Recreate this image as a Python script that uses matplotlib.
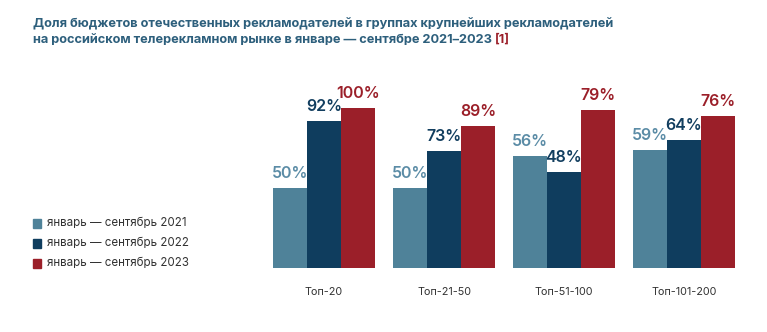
import matplotlib
matplotlib.use('Agg')
import numpy as np
import matplotlib.pyplot as plt
from matplotlib.patches import Rectangle

plt.rcParams['font.family'] = ['Inter', 'DejaVu Sans']

groups = ['Топ-20', 'Топ-21-50', 'Топ-51-100', 'Топ-101-200']
series = ['январь — сентябрь 2021', 'январь — сентябрь 2022', 'январь — сентябрь 2023']
v2021 = [50, 50, 56, 59]
v2022 = [92, 73, 48, 64]
v2023 = [100, 89, 79, 76]
# the source drew the last two groups on a larger scale
group_scale = [1.0, 1.0, 1.25, 1.25]

colors = ['#4f8299', '#0f3d5e', '#9b1f29']
label_colors = ['#5b8ca6', '#123e5f', '#9b1f29']

fig = plt.figure(figsize=(7.67, 3.32), dpi=100)
ax = fig.add_axes([264 / 767, 64 / 332, 480 / 767, 192 / 332])

x = np.arange(len(groups))
w = 0.286
for i, (vals, c, lc) in enumerate(zip([v2021, v2022, v2023], colors, label_colors)):
    pos = x + (i - 1) * w
    h = np.array(vals) * np.array(group_scale)
    ax.bar(pos, h, width=w, color=c, linewidth=0)
    for px, hv, v in zip(pos, h, vals):
        ax.annotate(f'{v}%', xy=(px, hv), xytext=(0, 5), textcoords='offset points',
                    ha='center', va='bottom', fontsize=11.5,
                    fontweight='semibold', color=lc)

ax.set_xlim(-0.5, 3.5)
ax.set_ylim(0, 120)
ax.set_xticks(x)
ax.set_xticklabels(groups, fontsize=7.8, color='#333333')
ax.tick_params(axis='x', length=0, pad=14)
ax.set_yticks([])
for s in ax.spines.values():
    s.set_visible(False)

# title
t1 = fig.text(33 / 767, 1 - 24 / 332, 'Доля бюджетов отечественных рекламодателей в группах крупнейших рекламодателей',
              fontsize=9.2, fontweight='bold', color='#2d5f7c', va='center')
t2 = fig.text(33 / 767, 1 - 40 / 332, 'на российском телерекламном рынке в январе — сентябре 2021–2023 ',
              fontsize=9.2, fontweight='bold', color='#2d5f7c', va='center')
ax.annotate('[1]', xy=(1, 0), xycoords=t2, va='bottom', ha='left',
            fontsize=9.2, fontweight='bold', color='#9b1f29', annotation_clip=False)

# legend
for i, (name, c) in enumerate(zip(series, colors)):
    yy = 1 - (223 + 20 * i) / 332
    fig.patches.append(Rectangle((33 / 767, yy - 4.5 / 332), 8 / 767, 9 / 332,
                                 transform=fig.transFigure, color=c, figure=fig))
    fig.text(47 / 767, yy, name, fontsize=8.3, color='#333333', va='center')

plt.savefig('out.png', dpi=100)
